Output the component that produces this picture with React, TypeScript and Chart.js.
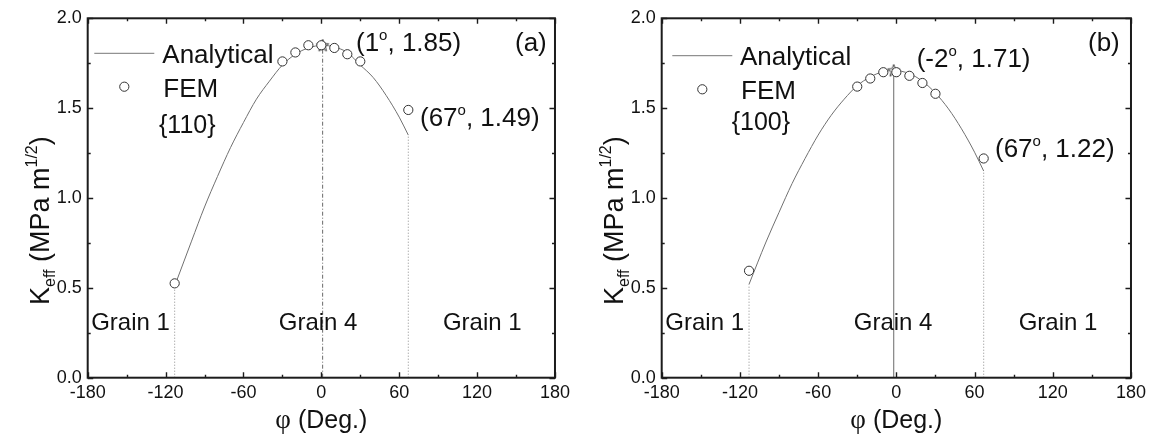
import { useEffect, useRef } from "react";
import { Chart, registerables } from "chart.js";

Chart.register(...registerables);

// ---- data -------------------------------------------------------------
// FEM sample angles (deg) and the computed K_eff (MPa m^1/2)
const femPhi = [-113, -30, -20, -10, 0, 10, 20, 30, 67];
const femA = [0.525, 1.76, 1.81, 1.85, 1.85, 1.835, 1.8, 1.76, 1.49];
const femB = [0.595, 1.62, 1.665, 1.7, 1.7, 1.68, 1.64, 1.58, 1.22];

// analytical curve, {110} plane
const curvePhiA = [-113, -100, -90, -80, -70, -60, -50, -40, -30, -20, -10, 1, 10, 20, 30, 40, 50, 60, 67];
const curveA = [0.51, 0.76, 0.95, 1.12, 1.28, 1.42, 1.55, 1.65, 1.74, 1.8, 1.835, 1.85, 1.84, 1.81, 1.74, 1.67, 1.57, 1.45, 1.35];

// analytical curve, {100} plane
const curvePhiB = [-113, -100, -90, -80, -70, -60, -50, -40, -30, -20, -10, -2, 10, 20, 30, 40, 50, 60, 67];
const curveB = [0.52, 0.755, 0.92, 1.08, 1.22, 1.35, 1.46, 1.55, 1.625, 1.674, 1.703, 1.71, 1.692, 1.65, 1.584, 1.496, 1.385, 1.255, 1.15];

// maxima of the analytical curves [phi, K]
const peakA = [1, 1.85];
const peakB = [-2, 1.71];

// grain boundaries (deg) and the curve height at each boundary
const boundaryPhi = [-113, 67];
const boundaryTopA = [0.51, 1.35];
const boundaryTopB = [0.52, 1.15];

// axis ticks
const xTicks = [-180, -120, -60, 0, 60, 120, 180];
const yTicks = [0, 0.5, 1.0, 1.5, 2.0];

// grain regions: label and centre angle
const grainNames = ["Grain 1", "Grain 4", "Grain 1"];
const grainCentres = [-147, -2.5, 124];

const FONT = "'Liberation Sans', Arial, Helvetica, sans-serif";
const SERIF = "'Liberation Serif', 'Times New Roman', serif";

type Run = { t: string; size: number; dy?: number; family?: string };

function runsWidth(ctx: CanvasRenderingContext2D, runs: Run[]) {
  let w = 0;
  for (const r of runs) {
    ctx.font = `${r.size}px ${r.family || FONT}`;
    w += ctx.measureText(r.t).width;
  }
  return w;
}

function drawRuns(ctx: CanvasRenderingContext2D, runs: Run[], x: number, y: number) {
  let cx = x;
  for (const r of runs) {
    ctx.font = `${r.size}px ${r.family || FONT}`;
    ctx.fillText(r.t, cx, y + (r.dy || 0));
    cx += ctx.measureText(r.t).width;
  }
}

function makeStar(): HTMLCanvasElement {
  const c = document.createElement("canvas");
  c.width = 16;
  c.height = 16;
  const g = c.getContext("2d")!;
  g.beginPath();
  for (let i = 0; i < 10; i++) {
    const r = i % 2 === 0 ? 6.5 : 2.8;
    const a = -Math.PI / 2 + (i * Math.PI) / 5;
    const px = 8 + r * Math.cos(a);
    const py = 8.5 + r * Math.sin(a);
    if (i === 0) g.moveTo(px, py);
    else g.lineTo(px, py);
  }
  g.closePath();
  g.fillStyle = "#fff";
  g.fill();
  g.strokeStyle = "#444";
  g.lineWidth = 1;
  g.stroke();
  return c;
}

type PanelProps = {
  width: number;
  left: number;
  axisWidth: number;
  padRight: number;
  curvePhi: number[];
  curveK: number[];
  femK: number[];
  peak: number[];
  boundaryTop: number[];
  centreDash: number[];
  plane: string;
  tag: string;
  peakText: string;
  legend: { lx: number; ly: number; cx: number; cy: number; tx: number; ty1: number; ty2: number; px: number; py: number };
  notes: { px: number; py: number; ex: number; ey: number; tx: number; ty: number };
};

function Panel(p: PanelProps) {
  const ref = useRef<HTMLCanvasElement | null>(null);

  useEffect(() => {
    const canvas = ref.current;
    if (!canvas) return;
    const star = makeStar();

    const decor = {
      id: "decor",
      afterDraw(chart: any) {
        const ctx = chart.ctx as CanvasRenderingContext2D;
        const a = chart.chartArea;
        const xs = chart.scales.x;
        const ys = chart.scales.y;
        ctx.save();

        // frame
        ctx.strokeStyle = "#1c1c1c";
        ctx.lineWidth = 2;
        ctx.strokeRect(a.left, a.top, a.right - a.left, a.bottom - a.top);

        // inward ticks on all four sides
        ctx.lineWidth = 1.4;
        ctx.beginPath();
        for (let v = -180; v <= 180; v += 30) {
          const px = Math.round(xs.getPixelForValue(v)) + 0.5;
          const len = v % 60 === 0 ? 5.5 : 3;
          ctx.moveTo(px, a.bottom);
          ctx.lineTo(px, a.bottom - len);
          ctx.moveTo(px, a.top);
          ctx.lineTo(px, a.top + len);
        }
        for (let v = 0; v <= 2.0001; v += 0.25) {
          const py = Math.round(ys.getPixelForValue(v)) + 0.5;
          const len = Math.abs(v * 2 - Math.round(v * 2)) < 1e-6 ? 5.5 : 3;
          ctx.moveTo(a.left, py);
          ctx.lineTo(a.left + len, py);
          ctx.moveTo(a.right, py);
          ctx.lineTo(a.right - len, py);
        }
        ctx.stroke();

        ctx.fillStyle = "#111";
        ctx.textBaseline = "alphabetic";
        ctx.textAlign = "left";

        // legend
        const L = p.legend;
        ctx.strokeStyle = "#777";
        ctx.lineWidth = 1;
        ctx.beginPath();
        ctx.moveTo(L.lx, L.ly);
        ctx.lineTo(L.lx + 60, L.ly);
        ctx.stroke();
        ctx.beginPath();
        ctx.arc(L.cx, L.cy, 4.6, 0, Math.PI * 2);
        ctx.fillStyle = "#fff";
        ctx.fill();
        ctx.strokeStyle = "#333";
        ctx.stroke();
        ctx.fillStyle = "#111";
        drawRuns(ctx, [{ t: "Analytical", size: 26 }], L.tx, L.ty1);
        drawRuns(ctx, [{ t: "FEM", size: 26 }], L.tx + 1, L.ty2);
        drawRuns(ctx, [{ t: p.plane, size: 25 }], L.px, L.py);

        // value notes
        const N = p.notes;
        drawRuns(ctx, [{ t: p.peakText, size: 26 }, { t: "o", size: 15, dy: -11 }, { t: ", " + p.peak[1].toFixed(2) + ")", size: 26 }], N.px, N.py);
        drawRuns(ctx, [{ t: "(" + femPhi[femPhi.length - 1], size: 26 }, { t: "o", size: 15, dy: -11 }, { t: ", " + p.femK[p.femK.length - 1].toFixed(2) + ")", size: 26 }], N.ex, N.ey);
        drawRuns(ctx, [{ t: p.tag, size: 26 }], N.tx, N.ty);

        // grain labels
        ctx.textAlign = "center";
        ctx.font = `24px ${FONT}`;
        grainNames.forEach((g, i) => {
          ctx.fillText(g, xs.getPixelForValue(grainCentres[i]), 330);
        });

        // x title
        ctx.textAlign = "left";
        const xTitle: Run[] = [
          { t: "\u03c6", size: 27, family: SERIF },
          { t: " (Deg.)", size: 25 },
        ];
        const tw = runsWidth(ctx, xTitle);
        drawRuns(ctx, xTitle, (a.left + a.right) / 2 - tw / 2, 428);

        // y title (rotated)
        ctx.translate(a.left - 39, 305);
        ctx.rotate(-Math.PI / 2);
        drawRuns(ctx, [
          { t: "K", size: 27 },
          { t: "eff", size: 16, dy: 6 },
          { t: " (MPa m", size: 27 },
          { t: "1/2", size: 16, dy: -12 },
          { t: ")", size: 27 },
        ], 0, 0);

        ctx.restore();
      },
    };

    const pts = (xs: number[], ys: number[]) => xs.map((x, i) => ({ x, y: ys[i] }));
    const drop = (x: number, top: number, dash: number[], color: string) => ({
      data: [{ x, y: 0 }, { x, y: top }],
      showLine: true,
      borderColor: color,
      borderWidth: 1,
      borderDash: dash,
      pointRadius: 0,
    });

    const chart = new Chart(canvas, {
      type: "scatter",
      data: {
        datasets: [
          {
            data: pts(femPhi, p.femK),
            pointStyle: "circle",
            pointRadius: 4.6,
            pointBackgroundColor: "#fff",
            pointBorderColor: "#333",
            pointBorderWidth: 1,
            showLine: false,
          },
          {
            data: [{ x: p.peak[0], y: p.peak[1] }],
            pointStyle: star,
            pointRadius: 6,
            showLine: false,
          },
          {
            data: pts(p.curvePhi, p.curveK),
            showLine: true,
            borderColor: "#707070",
            borderWidth: 1,
            pointRadius: 0,
            cubicInterpolationMode: "monotone",
          },
          drop(boundaryPhi[0], p.boundaryTop[0], [1, 2], "#8c8c8c"),
          drop(p.peak[0], p.peak[1], p.centreDash, "#6a6a6a"),
          drop(boundaryPhi[1], p.boundaryTop[1], [1, 2], "#8c8c8c"),
        ] as any,
      },
      options: {
        animation: false,
        responsive: false,
        devicePixelRatio: 1,
        layout: { padding: { top: 18.3, right: p.padRight, left: 0, bottom: 0 } },
        plugins: { legend: { display: false }, tooltip: { enabled: false } },
        scales: {
          x: {
            type: "linear",
            min: -180,
            max: 180,
            afterFit: (s: any) => {
              s.height = 61.3;
            },
            afterBuildTicks: (s: any) => {
              s.ticks = xTicks.map((v) => ({ value: v }));
            },
            ticks: { font: { family: FONT, size: 18 }, color: "#111", padding: 5, maxRotation: 0, autoSkip: false },
            grid: { display: false, drawTicks: false },
            border: { display: false },
          },
          y: {
            type: "linear",
            min: 0,
            max: 2,
            afterFit: (s: any) => {
              s.width = p.axisWidth;
            },
            afterBuildTicks: (s: any) => {
              s.ticks = yTicks.map((v) => ({ value: v }));
            },
            ticks: {
              font: { family: FONT, size: 18 },
              color: "#111",
              padding: 6,
              callback: (v: any) => Number(v).toFixed(1),
            },
            grid: { display: false, drawTicks: false },
            border: { display: false },
          },
        },
      } as any,
      plugins: [decor],
    });

    return () => chart.destroy();
  }, []);

  return (
    <canvas
      ref={ref}
      width={p.width}
      height={439}
      style={{ position: "absolute", left: p.left, top: 0, display: "block" }}
    />
  );
}

export default function App() {
  return (
    <div style={{ position: "absolute", left: 0, top: 0, width: 1151, height: 439, background: "#fff", overflow: "hidden" }}>
      <Panel
        width={575}
        left={0}
        axisWidth={87.7}
        padRight={16.5}
        curvePhi={curvePhiA}
        curveK={curveA}
        femK={femA}
        peak={peakA}
        boundaryTop={boundaryTopA}
        centreDash={[4, 2, 1, 2]}
        plane="{110}"
        tag="(a)"
        peakText="(1"
        legend={{ lx: 94.3, ly: 53.3, cx: 124.3, cy: 86.7, tx: 162.3, ty1: 62.7, ty2: 96.7, px: 159, py: 133.3 }}
        notes={{ px: 356, py: 50.7, ex: 420, ey: 126, tx: 515, ty: 51 }}
      />
      <Panel
        width={576}
        left={575}
        axisWidth={86.7}
        padRight={19.3}
        curvePhi={curvePhiB}
        curveK={curveB}
        femK={femB}
        peak={peakB}
        boundaryTop={boundaryTopB}
        centreDash={[]}
        plane="{100}"
        tag="(b)"
        peakText="(-2"
        legend={{ lx: 97.3, ly: 55.7, cx: 127.3, cy: 89.3, tx: 165, ty1: 64.5, ty2: 99, px: 156.7, py: 130 }}
        notes={{ px: 341.7, py: 66.7, ex: 420, ey: 156.7, tx: 513, ty: 51 }}
      />
    </div>
  );
}
